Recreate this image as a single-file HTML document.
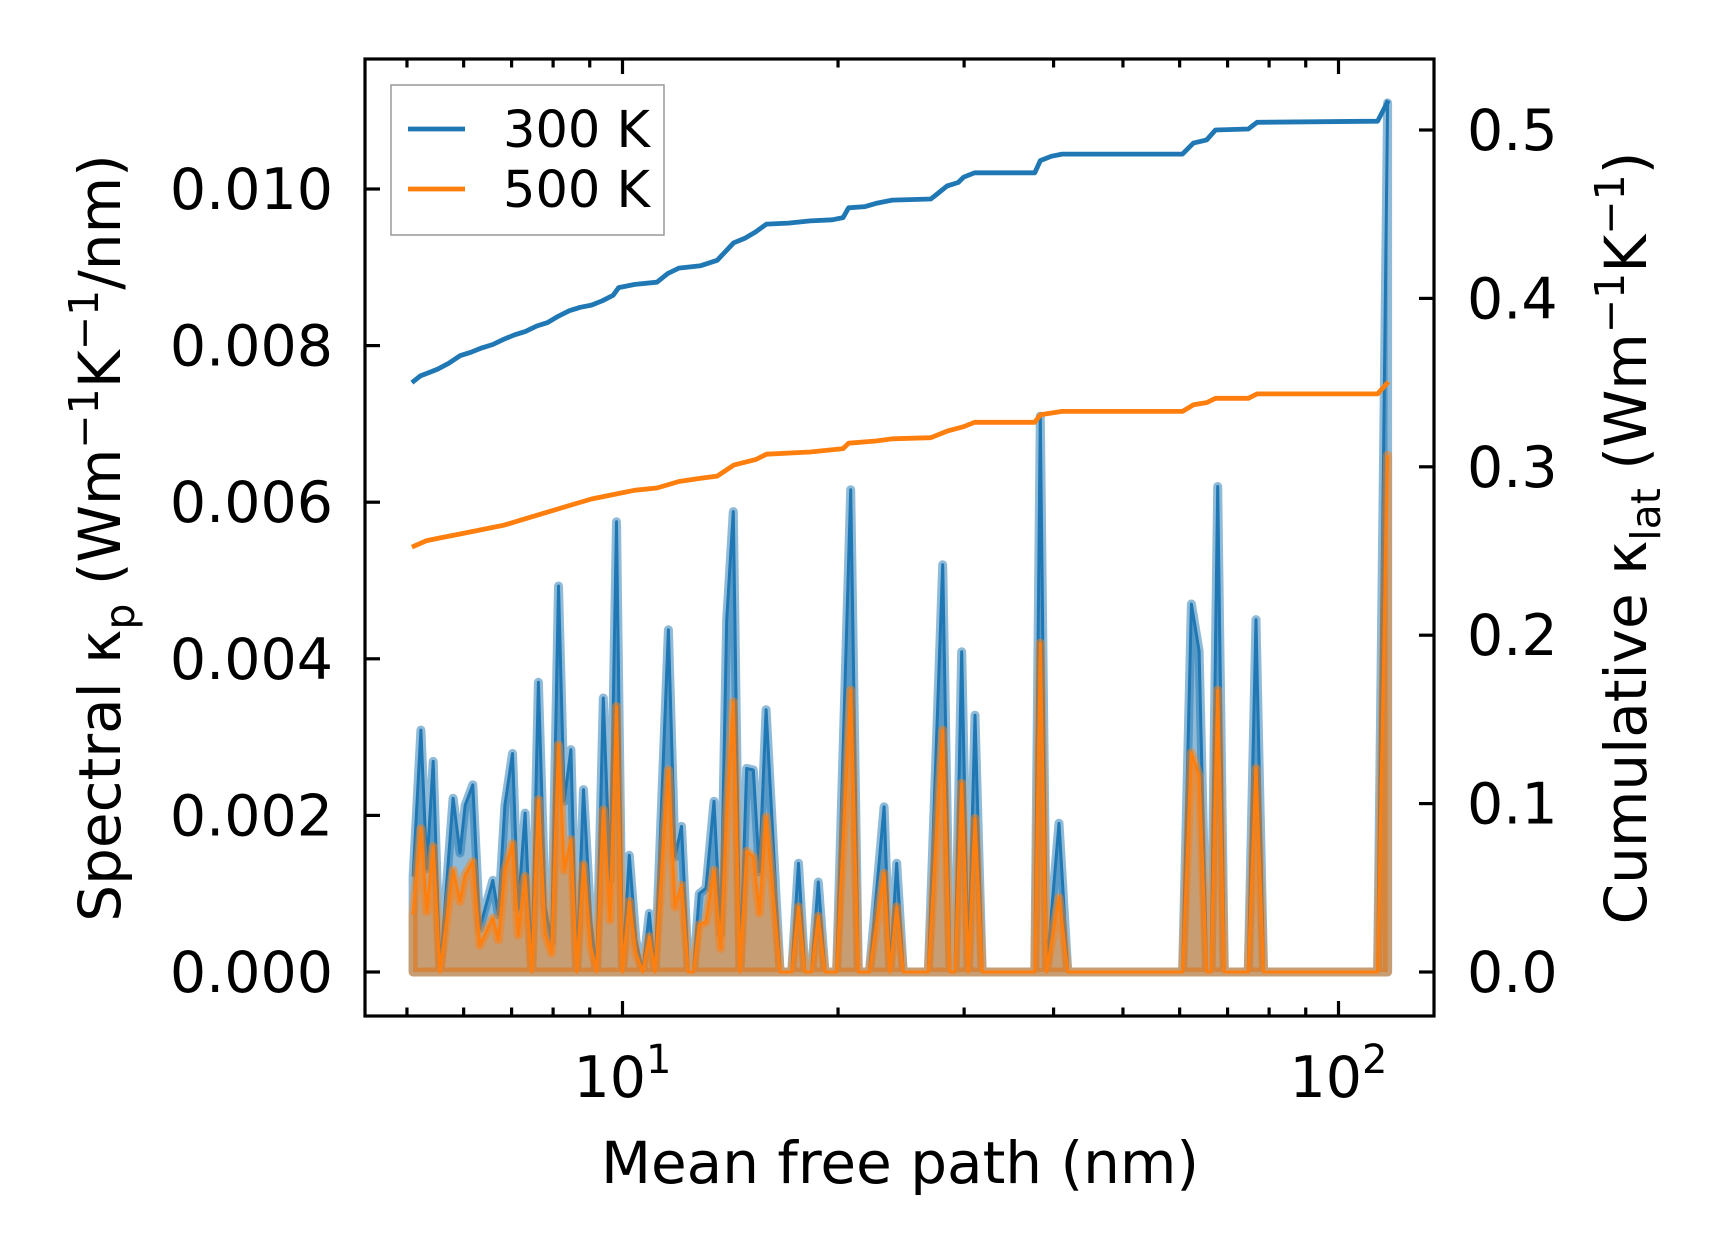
<!DOCTYPE html>
<html><head><meta charset="utf-8"><style>
html,body{margin:0;padding:0;background:#fff;}
svg{display:block;font-family:"DejaVu Sans","Liberation Sans",sans-serif;}
</style></head><body>
<svg id="chart" width="1716" height="1254" viewBox="0 0 1716 1254" xmlns="http://www.w3.org/2000/svg">
<rect width="1716" height="1254" fill="#fff"/>
<g id="plot"></g>
</svg>
<script>
// spectral data (values in units of 1e-4 W m^-1 K^-1 / nm)
const specMfp = [5.10,5.23,5.33,5.44,5.56,5.80,5.93,6.03,6.18,6.32,6.59,6.71,6.85,7.02,7.15,7.31,7.47,7.63,7.80,7.96,8.14,8.29,8.47,8.63,8.82,9.03,9.20,9.40,9.61,9.81,10.0,10.22,10.44,10.67,10.90,11.10,11.59,11.84,12.09,12.36,12.56,12.80,13.08,13.42,13.71,13.98,14.28,14.59,14.91,15.23,15.53,15.87,16.60,16.96,17.23,17.61,17.98,18.37,18.77,19.18,19.91,20.83,21.35,22.12,23.19,23.64,24.15,24.67,26.74,28.00,28.67,29.13,29.77,30.41,31.07,31.8,37.66,38.33,39.1,40.7,41.87,60.57,62.3,63.87,65.46,66.37,67.8,69.26,74.8,76.7,78.6,113.4,117.1];
const spec300 = [12.2,30.9,13.2,26.9,0,22.2,15.2,21.3,23.9,5.6,11.7,7.3,21.3,27.9,8.1,20.3,0,37.0,8.3,3.9,49.3,21.8,28.4,0,23.3,6.6,0,35.0,11.7,57.5,0,14.9,4.1,0,7.5,0,43.7,14.7,18.6,0,0,10.0,10.7,21.8,4.9,45.0,58.8,0,26.0,25.8,12.8,33.5,0,0,0,13.9,0,0,11.5,0,0,61.6,0,0,21.1,0,13.9,0,0,52.0,0,0,40.9,0,32.8,0,0,71,0,19,0,0,47,41,0,0,62,0,0,45,0,0,111];
const spec500 = [7.3,18.3,7.7,16.0,0,13.0,9.0,12.4,14.1,3.4,6.9,4.1,13.0,16.4,4.7,12.2,0,22.0,4.9,2.4,29.0,13.0,16.9,0,13.7,3.2,0,20.7,6.6,33.9,0,9.0,2.4,0,4.5,0,25.8,8.3,11.1,0,0,6.0,6.4,13.0,3.0,20.0,34.5,0,15.4,14.7,7.5,19.8,0,0,0,8.3,0,0,7.1,0,0,36.0,0,0,12.6,0,8.3,0,0,30.9,0,0,24.1,0,19.6,0,0,42,0,9.5,0,0,28,25,0,0,36,0,0,26,0,0,66];
// cumulative data (W m^-1 K^-1)
const cumMfp300 = [5.08,5.22,5.37,5.52,5.72,5.93,6.14,6.36,6.59,6.83,7.07,7.32,7.59,7.86,8.14,8.43,8.73,9.05,9.37,9.70,9.88,10.41,11.17,11.57,11.99,12.86,13.56,14.30,14.81,15.34,15.89,17.05,18.29,19.63,20.33,20.69,21.82,22.59,23.82,26.95,27.43,28.41,29.43,29.95,31.02,37.66,38.33,39.70,41.11,60.55,62.72,65.46,67.33,74.82,76.96,113.4,117.4];
const cum300 = [0.350,0.354,0.356,0.358,0.3615,0.366,0.368,0.3706,0.3726,0.3758,0.3784,0.3804,0.3836,0.3856,0.3895,0.3927,0.3947,0.396,0.3986,0.4018,0.4064,0.4083,0.4096,0.4148,0.418,0.4194,0.4226,0.433,0.4356,0.4395,0.4441,0.4447,0.446,0.4467,0.448,0.4538,0.4545,0.4564,0.4584,0.459,0.4616,0.4668,0.4688,0.472,0.4746,0.4746,0.4818,0.4844,0.4857,0.4857,0.4922,0.4941,0.5,0.5006,0.5046,0.5052,0.5176];
const cumMfp500 = [5.08,5.33,5.52,5.93,6.36,6.83,7.32,7.86,8.43,9.05,9.70,10.41,11.17,11.99,12.86,13.56,14.30,15.34,15.89,18.29,20.33,20.69,22.59,23.82,26.95,28.41,29.95,31.02,37.66,38.33,41.11,60.55,62.72,65.46,67.33,74.82,76.96,113.4,117.4];
const cum500 = [0.2523,0.2562,0.2575,0.2601,0.2627,0.2653,0.2692,0.2731,0.277,0.2809,0.2835,0.2861,0.2874,0.2913,0.2932,0.2945,0.301,0.3043,0.3075,0.3088,0.3108,0.314,0.3153,0.3166,0.3173,0.3212,0.3238,0.3264,0.3264,0.3309,0.3329,0.3329,0.3368,0.3381,0.3407,0.3407,0.3433,0.3433,0.3505];
const leftTicks = [0,0.002,0.004,0.006,0.008,0.010];
const leftTickLabels = ["0.000","0.002","0.004","0.006","0.008","0.010"];
const rightTicks = [0,0.1,0.2,0.3,0.4,0.5];
const rightTickLabels = ["0.0","0.1","0.2","0.3","0.4","0.5"];
const xMajor = [10,100];
const xMajorExp = ["1","2"];
const xMinor = [5,6,7,8,9,20,30,40,50,60,70,80,90];
const seriesNames = ["300 K","500 K"];

const L=365,R=1434,T=59,B=1016;
const X0=622.5, DEC=716;
function xs(v){return X0+(Math.log10(v)-1)*DEC;}
function ysL(v){return 972 - v*78300;}
function ysR(v){return 972 - v*1684;}
const NS="http://www.w3.org/2000/svg";
const g=document.getElementById('plot');
function mk(tag,attrs,parent){const e=document.createElementNS(NS,tag);for(const k in attrs)e.setAttribute(k,attrs[k]);(parent||g).appendChild(e);return e;}

const defs=mk('defs',{});
const cp=mk('clipPath',{id:'clip'},defs);
mk('rect',{x:L,y:T,width:R-L,height:B-T},cp);
const plotG=mk('g',{'clip-path':'url(#clip)'});



function spectral(vals,color,fillc,name){
  let pts=specMfp.map((m,i)=>xs(m).toFixed(1)+','+ysL(vals[i]*1e-4).toFixed(1));
  const x0=xs(specMfp[0]).toFixed(1), x1=xs(specMfp[specMfp.length-1]).toFixed(1), y0=ysL(0).toFixed(1);
  const poly=mk('polygon',{points:x0+','+y0+' '+pts.join(' ')+' '+x1+','+y0,fill:fillc,'fill-opacity':0.5,stroke:fillc,'stroke-opacity':0.5,'stroke-width':9,'stroke-linejoin':'round'},plotG);
  
  
  const ln=mk('polyline',{points:pts.join(' '),fill:'none',stroke:color,'stroke-width':3,'stroke-linejoin':'round'},plotG);
  
  
}
spectral(spec300,'#1f77b4','#1f77b4','spectral-300k');
spectral(spec500,'#ff7f0e','#ff7f0e','spectral-500k');

function cumulative(xsArr,vals,color,name){
  const pts=xsArr.map((m,i)=>xs(m).toFixed(1)+','+ysR(vals[i]).toFixed(1));
  const ln=mk('polyline',{points:pts.join(' '),fill:'none',stroke:color,'stroke-width':4.8,'stroke-linejoin':'round'},plotG);
  
  
}
cumulative(cumMfp300,cum300,'#1f77b4','cumulative-300k');
cumulative(cumMfp500,cum500,'#ff7f0e','cumulative-500k');

const tk=mk('g',{stroke:'#000','stroke-width':3.2});


const MAJ=15, MIN=8.5;
xMajor.forEach(v=>{const x=xs(v);mk('line',{x1:x,x2:x,y1:B,y2:B-MAJ},tk);mk('line',{x1:x,x2:x,y1:T,y2:T+MAJ},tk);});
xMinor.forEach(v=>{const x=xs(v);mk('line',{x1:x,x2:x,y1:B,y2:B-MIN},tk);mk('line',{x1:x,x2:x,y1:T,y2:T+MIN},tk);});
leftTicks.forEach(v=>{const y=ysL(v);mk('line',{x1:L,x2:L+MAJ,y1:y,y2:y},tk);});
rightTicks.forEach(v=>{const y=ysR(v);mk('line',{x1:R,x2:R-MAJ,y1:y,y2:y},tk);});

const sp=mk('rect',{x:L,y:T,width:R-L,height:B-T,fill:'none',stroke:'#000','stroke-width':3.2});



const FS=57;
leftTicks.forEach((v,i)=>{const t=mk('text',{x:333,y:ysL(v)+20,'text-anchor':'end','font-size':FS});t.textContent=leftTickLabels[i];

});
rightTicks.forEach((v,i)=>{const t=mk('text',{x:1467,y:ysR(v)+20,'text-anchor':'start','font-size':FS});t.textContent=rightTickLabels[i];

});
xMajor.forEach((v,i)=>{const t=mk('text',{x:xs(v),y:1097,'text-anchor':'middle','font-size':FS});
t.innerHTML='10<tspan dy="-24" font-size="40">'+xMajorExp[i]+'</tspan>';

});

const lg=mk('g',{});


mk('rect',{x:391,y:85,width:273,height:150,fill:'#fff',stroke:'#999','stroke-width':1.5},lg);
[['#1f77b4',129],['#ff7f0e',189]].forEach((c,i)=>{
  const l=mk('line',{x1:408,x2:465,y1:c[1],y2:c[1],stroke:c[0],'stroke-width':4.8},lg);
  
  
  const t=mk('text',{x:503,y:c[1]+18,'font-size':51},lg);t.textContent=seriesNames[i];
  
  
});
</script>
<div style="position:absolute;left:0;top:0;width:1716px;height:1254px;pointer-events:none">
<svg width="1716" height="1254" style="position:absolute;left:0;top:0;font-family:'DejaVu Sans','Liberation Sans',sans-serif">
<text x="900" y="1183" text-anchor="middle" font-size="58">Mean free path (nm)</text>
<text transform="translate(120,538) rotate(-90)" text-anchor="middle" font-size="58">Spectral κ<tspan dy="14" font-size="41">p</tspan><tspan dy="-14"> (Wm</tspan><tspan dy="-22" font-size="41">−1</tspan><tspan dy="22">K</tspan><tspan dy="-22" font-size="41">−1</tspan><tspan dy="22">/nm)</tspan></text>
<text transform="translate(1646,538) rotate(-90)" text-anchor="middle" font-size="58">Cumulative κ<tspan dy="14" font-size="41">lat</tspan><tspan dy="-14"> (Wm</tspan><tspan dy="-22" font-size="41">−1</tspan><tspan dy="22">K</tspan><tspan dy="-22" font-size="41">−1</tspan><tspan dy="22">)</tspan></text>
</svg>
</div>
</body></html>
